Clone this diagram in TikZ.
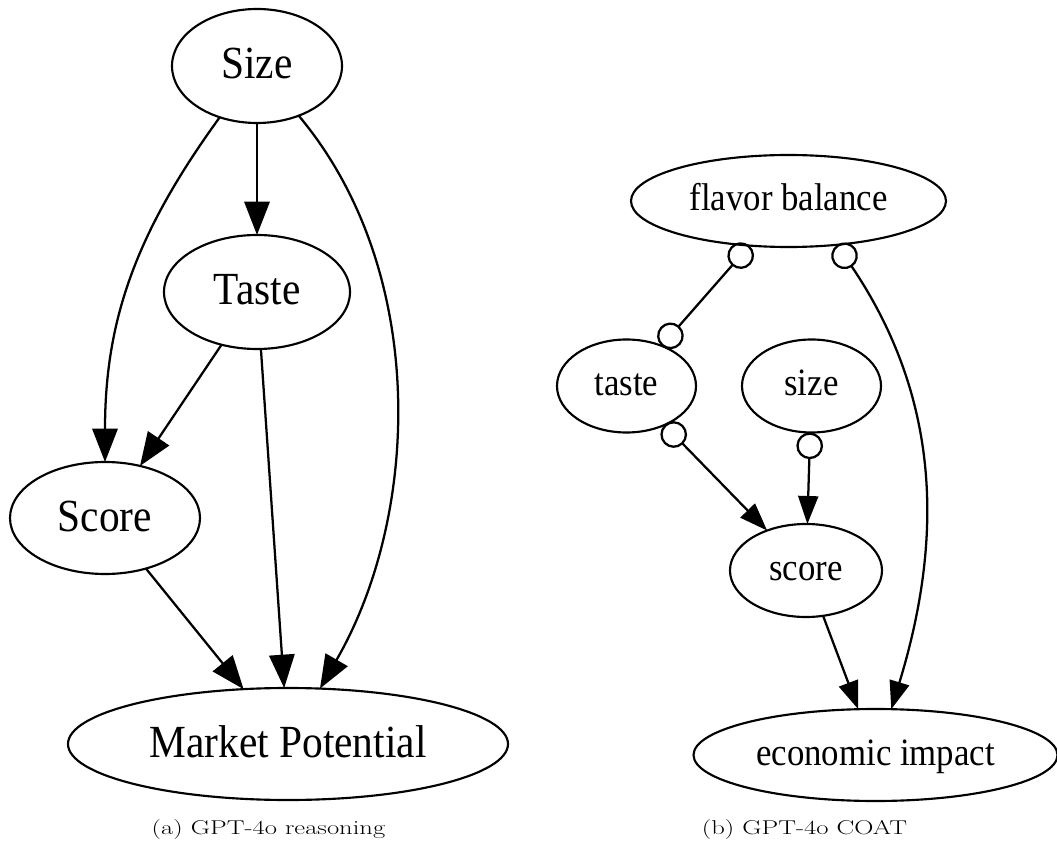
\documentclass[tikz,border=0pt]{standalone}
\usepackage{fontspec}
\usepackage{tikz}
\usetikzlibrary{arrows.meta,shapes.geometric}
\newfontfamily\graphfont{Liberation Serif}
\newcommand{\squeezed}[1]{\scalebox{0.9}[1]{#1}}

\begin{document}
\begin{tikzpicture}[x=0.75pt,y=-0.75pt,>=Latex]
  \tikzstyle{bignode}=[draw,ellipse,line width=1.6pt,inner sep=0pt,outer sep=0pt,text height=19.5pt,text depth=0pt,font=\graphfont\fontsize{34.5}{40}\selectfont]
  \tikzstyle{smallnode}=[draw,ellipse,line width=1.6pt,inner sep=0pt,outer sep=0pt,text height=15pt,text depth=0pt,font=\graphfont\fontsize{29}{34}\selectfont]
  \tikzstyle{bigedge}=[line width=1.7pt,-{Triangle[length=25pt,width=19pt]}]
  \tikzstyle{smalledge}=[line width=1.7pt,-{Triangle[length=21pt,width=15pt]}]
  \tikzstyle{circarrow}=[line width=1.7pt,{Circle[open,length=20pt]}-{Triangle[length=21pt,width=15pt]}]
  \tikzstyle{circcirc}=[line width=1.7pt,{Circle[open,length=20pt]}-{Circle[open,length=20pt]}]
  \tikzstyle{caption}=[inner sep=0pt,font=\fontsize{15}{18}\selectfont]
  \useasboundingbox (0,0) rectangle (1057,848);
  % (a) reasoning graph
  \node[bignode,minimum width=127.5pt,minimum height=85.5pt] (lsize) at (257,66) {\squeezed{Size}};
  \node[bignode,minimum width=139.5pt,minimum height=85.5pt] (ltaste) at (257,292) {\squeezed{Taste}};
  \node[bignode,minimum width=142.5pt,minimum height=84pt] (lscore) at (105,518) {\squeezed{Score}};
  \node[bignode,minimum width=330pt,minimum height=84pt] (lmarket) at (288,744) {\squeezed{Market Potential}};
  \foreach \a/\b in {lsize/ltaste,ltaste/lscore,ltaste/lmarket,lscore/lmarket}
    \draw[bigedge] (\a) -- (\b);
  \draw[bigedge] (lsize) to[out=234,in=90] (lscore);
  \draw[bigedge] (lsize) to[out=-50,in=60,looseness=0.9] (lmarket);
  % (b) COAT graph
  \node[smallnode,minimum width=236.25pt,minimum height=69pt] (flavor) at (788.5,201) {\squeezed{flavor balance}};
  \node[smallnode,minimum width=104.25pt,minimum height=69.75pt] (rtaste) at (626.5,386) {\squeezed{taste}};
  \node[smallnode,minimum width=104.25pt,minimum height=69.75pt] (rsize) at (811.5,386) {\squeezed{size}};
  \node[smallnode,minimum width=114pt,minimum height=69.75pt] (rscore) at (806,570.5) {\squeezed{score}};
  \node[smallnode,minimum width=273pt,minimum height=69pt] (econ) at (875.5,755) {\squeezed{economic impact}};
  \draw[circcirc] (flavor) -- (rtaste);
  \foreach \a in {rtaste,rsize}
    \draw[circarrow] (\a) -- (rscore);
  \draw[smalledge] (rscore) -- (econ);
  \draw[circarrow] (flavor.-42) to[out=-56,in=73] (econ.71);
  % captions
  \node[caption] (capa) at (268.5,830) {\scalebox{1.33}[1]{(a) GPT-4o reasoning}};
  \node[caption] (capb) at (804.5,830) {\scalebox{1.33}[1]{(b) GPT-4o COAT}};
\end{tikzpicture}
\end{document}
